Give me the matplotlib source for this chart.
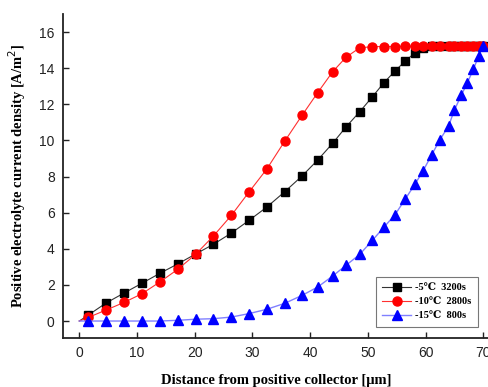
import numpy as np
import matplotlib.pyplot as plt

# shared distance grid [um]; first point (0, 0) is drawn without a marker
dist = [0.0, 1.56, 4.65, 7.75, 10.85, 13.95, 17.05, 20.15, 23.25, 26.35, 29.4,
        32.5, 35.6, 38.6, 41.3, 43.9, 46.2, 48.6, 50.8, 52.8, 54.7, 56.5,
        58.2, 59.6, 61.1, 62.5, 64.0, 65.0, 66.2, 67.2, 68.3, 69.2, 70.0]

cur_5 = [0.0, 0.33, 1.0, 1.55, 2.09, 2.64, 3.16, 3.71, 4.25, 4.87, 5.57,
         6.31, 7.16, 8.03, 8.91, 9.84, 10.74, 11.59, 12.42, 13.2, 13.84, 14.4,
         14.86, 15.13, 15.22, 15.24, 15.25, 15.25, 15.25, 15.25, 15.25, 15.25, 15.25]

cur_10 = [0.0, 0.2, 0.61, 1.03, 1.51, 2.16, 2.86, 3.69, 4.71, 5.85, 7.14,
          8.42, 9.96, 11.39, 12.64, 13.8, 14.6, 15.13, 15.19, 15.2, 15.2, 15.21,
          15.21, 15.22, 15.22, 15.23, 15.23, 15.24, 15.24, 15.24, 15.25, 15.25, 15.25]

cur_15 = [0.0, 0.0, 0.0, 0.0, 0.0, 0.0, 0.04, 0.1, 0.13, 0.22, 0.41,
          0.65, 0.98, 1.42, 1.88, 2.49, 3.08, 3.69, 4.47, 5.2, 5.88, 6.76,
          7.59, 8.33, 9.22, 10.04, 10.8, 11.68, 12.5, 13.16, 13.94, 14.67, 15.25]

labels = ['-5\u2103  3200s', '-10\u2103  2800s', '-15\u2103  800s']

fig = plt.figure(figsize=(4.89, 3.87), dpi=100)
ax = fig.add_axes([0.1288, 0.1266, 0.8712, 0.8372])

ax.plot(dist, cur_5, color='#333333', lw=0.8, marker='s', ms=5.5,
        mfc='black', mec='black', markevery=range(1, len(dist)), label=labels[0])
ax.plot(dist, cur_10, color='#ff3030', lw=0.8, marker='o', ms=6.5,
        mfc='#ff0000', mec='#ff0000', markevery=range(1, len(dist)), label=labels[1])
ax.plot(dist, cur_15, color='#8080ff', lw=1.0, marker='^', ms=6.5,
        mfc='#0000ff', mec='#0000ff', markevery=range(1, len(dist)), label=labels[2])

ax.set_xlim(-2.83, 71.0)
ax.set_ylim(-0.94, 17.0)
ax.set_xticks(np.arange(0, 71, 10))
ax.set_yticks(np.arange(0, 17, 2))

for s in ['top', 'right']:
    ax.spines[s].set_visible(False)
for s in ['left', 'bottom']:
    ax.spines[s].set_linewidth(1.3)
    ax.spines[s].set_color('#222222')

ax.tick_params(direction='in', length=4, width=1.0, color='#222222',
               labelsize=10, labelcolor='#222222', pad=6)
for t in ax.get_xticklabels() + ax.get_yticklabels():
    t.set_family('Liberation Sans')

ax.set_xlabel('Distance from positive collector [\u03bcm]', family='Liberation Serif',
              fontweight='bold', fontsize=10.5, labelpad=10)
ax.set_ylabel('Positive electrolyte current density [A/m$^2$]', family='Liberation Serif',
              fontweight='bold', fontsize=10.5, labelpad=8)

leg = ax.legend(loc='lower right', bbox_to_anchor=(0.974, 0.035),
                prop={'family': ['Liberation Serif', 'DejaVu Serif'], 'weight': 'bold', 'size': 7.5},
                frameon=True, fancybox=False, edgecolor='#555555', borderpad=0.6,
                handlelength=2.8, handletextpad=0.4, labelspacing=0.45, borderaxespad=0)
leg.get_frame().set_linewidth(0.8)

fig.savefig('out.png', dpi=100)
